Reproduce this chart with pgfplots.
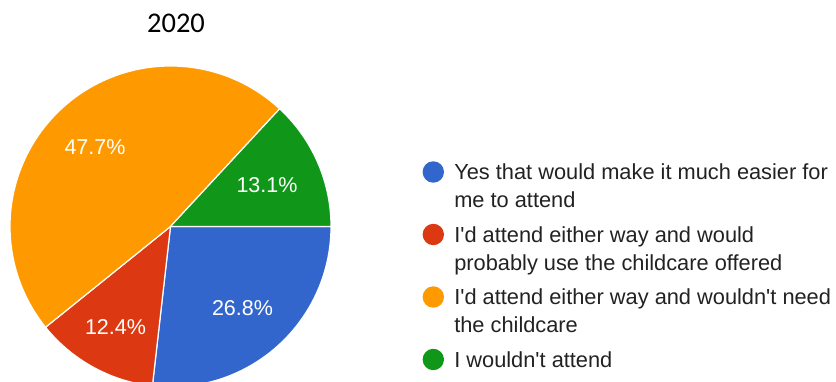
\documentclass[border=0pt]{standalone}
\usepackage{pgfplots}
\pgfplotsset{compat=1.18}
\usepackage{fontspec}
\setmainfont{Liberation Sans}
\newfontfamily\arial{Liberation Sans}
\newfontfamily\calibri{Carlito}
\definecolor{pieblue}{HTML}{3366CC}
\definecolor{piered}{HTML}{DC3912}
\definecolor{pieorange}{HTML}{FF9900}
\definecolor{piegreen}{HTML}{109618}
\definecolor{legtext}{HTML}{222222}
% pie geometry (1 unit = 1 px of the reference)
\def\cx{170.5}\def\cy{226.5}\def\R{160.5}
% shares in percent
\def\pA{26.8}\def\pB{12.4}\def\pC{47.7}\def\pD{13.1}
\pgfmathsetmacro\aA{-3.6*\pA}
\pgfmathsetmacro\aB{\aA-3.6*\pB}
\pgfmathsetmacro\aC{\aB-3.6*\pC}
\pgfmathsetmacro\aD{\aC-3.6*\pD}
\begin{document}
\begin{tikzpicture}
\begin{axis}[width=836pt,height=382pt,scale only axis,
  xmin=0,xmax=836,ymin=0,ymax=382,y dir=reverse,hide axis,clip=true,
  legend image code/.code={\fill[#1,draw=none] (0pt,7.5pt) circle (10.7pt);},
  legend cell align=left,
  legend style={at={(axis cs:422.6,151)},anchor=north west,draw=none,fill=none,
    inner sep=0pt,outer sep=0pt,column sep=10.3pt,row sep=0pt,
    font=\arial\fontsize{21.8}{28}\selectfont,
    cells={anchor=base west},
    nodes={inner sep=0pt,outer sep=0pt,text height=28.5pt,text depth=34pt,text=legtext}},
  pie/.style={draw=white,line width=1.2pt,samples=120,variable=\t}
]
\addplot[pie,fill=pieblue,domain=\aA:0] ({\cx+\R*cos(\t)},{\cy-\R*sin(\t)}) -- (\cx,\cy) -- cycle;
\addlegendentry{\begin{tabular}[t]{@{}l@{}}Yes that would make it much easier for\\me to attend\end{tabular}}
\addplot[pie,fill=piered,domain=\aB:\aA] ({\cx+\R*cos(\t)},{\cy-\R*sin(\t)}) -- (\cx,\cy) -- cycle;
\addlegendentry{\begin{tabular}[t]{@{}l@{}}I\textquotesingle d attend either way and would\\probably use the childcare offered\end{tabular}}
\addplot[pie,fill=pieorange,domain=\aC:\aB] ({\cx+\R*cos(\t)},{\cy-\R*sin(\t)}) -- (\cx,\cy) -- cycle;
\addlegendentry{\begin{tabular}[t]{@{}l@{}}I\textquotesingle d attend either way and wouldn\textquotesingle t need\\the childcare\end{tabular}}
\addplot[pie,fill=piegreen,domain=\aD:\aC] ({\cx+\R*cos(\t)},{\cy-\R*sin(\t)}) -- (\cx,\cy) -- cycle;
\addlegendentry{I wouldn\textquotesingle t attend}
\node[font=\arial\fontsize{21.5}{26}\selectfont,text=white,anchor=base] at (axis cs:95,154.7) {47.7\%};
\node[font=\arial\fontsize{21.5}{26}\selectfont,text=white,anchor=base] at (axis cs:267,192.7) {13.1\%};
\node[font=\arial\fontsize{21.5}{26}\selectfont,text=white,anchor=base] at (axis cs:242.5,315.7) {26.8\%};
\node[font=\arial\fontsize{21.5}{26}\selectfont,text=white,anchor=base] at (axis cs:115.5,334.7) {12.4\%};
\node[font=\calibri\fontsize{28.5}{34}\selectfont,text=black,anchor=base] at (axis cs:176,32.3) {2020};
\end{axis}
\pgfresetboundingbox
\path[use as bounding box] (current axis.south west) rectangle (current axis.north east);
\end{tikzpicture}
\end{document}
